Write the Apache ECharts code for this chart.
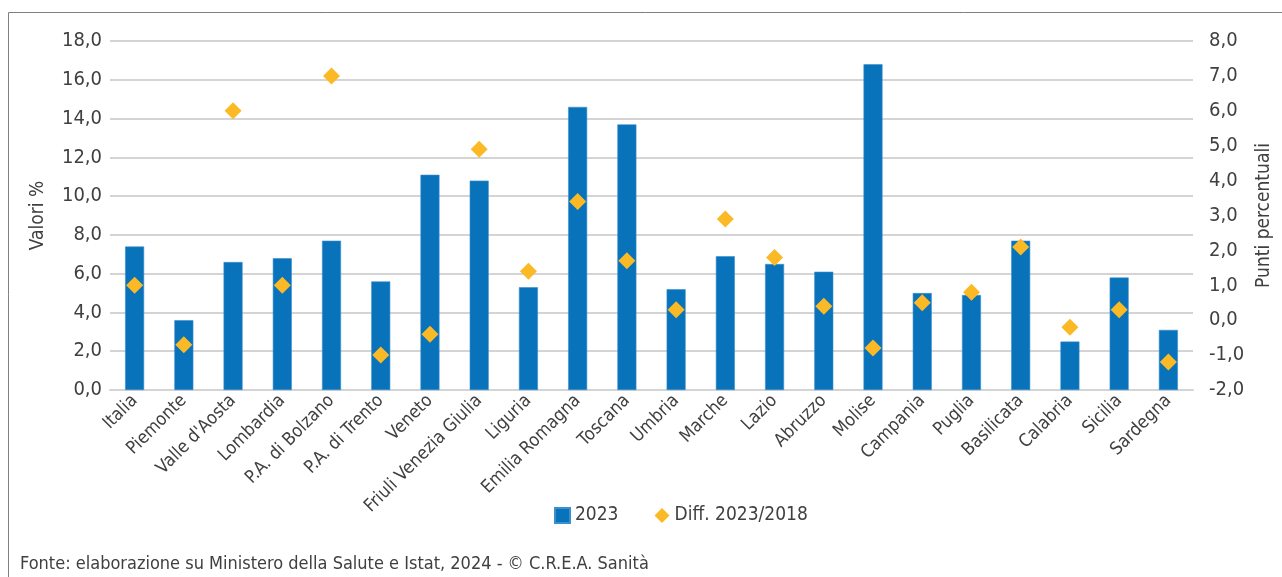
<!DOCTYPE html>
<html>
<head>
<meta charset="utf-8">
<style>
  html, body { margin: 0; padding: 0; background: #fff; }
  #chart { width: 1282px; height: 577px; }
</style>
<script src="https://cdn.jsdelivr.net/npm/echarts@6/dist/echarts.min.js"></script>
</head>
<body>
<div id="chart"></div>
<script>
const regioni = ['Italia', 'Piemonte', "Valle d'Aosta", 'Lombardia', 'P.A. di Bolzano', 'P.A. di Trento',
  'Veneto', 'Friuli Venezia Giulia', 'Liguria', 'Emilia Romagna', 'Toscana', 'Umbria', 'Marche',
  'Lazio', 'Abruzzo', 'Molise', 'Campania', 'Puglia', 'Basilicata', 'Calabria', 'Sicilia', 'Sardegna'];

// valori % 2023 (asse sx)
const valori2023 = [7.4, 3.6, 6.6, 6.8, 7.7, 5.6, 11.1, 10.8, 5.3, 14.6, 13.7, 5.2, 6.9,
  6.5, 6.1, 16.8, 5.0, 4.9, 7.7, 2.5, 5.8, 3.1];

// differenza in punti percentuali 2023/2018 (asse dx)
const diff2023_2018 = [1.0, -0.7, 6.0, 1.0, 7.0, -1.0, -0.4, 4.9, 1.4, 3.4, 1.7, 0.3, 2.9,
  1.8, 0.4, -0.8, 0.5, 0.8, 2.1, -0.2, 0.3, -1.2];

const fonte = 'Fonte: elaborazione su Ministero della Salute e Istat, 2024 - © C.R.E.A. Sanità';

const FONT = "'Liberation Sans Narrow', 'DejaVu Sans Condensed', 'Arial Narrow', sans-serif";
const TXT = '#404040';
const fmt = v => v.toFixed(1).replace('.', ',');

const chart = echarts.init(document.getElementById('chart'));

const option = {
  animation: false,
  textStyle: { fontFamily: FONT, color: TXT },
  grid: { left: 110, right: 89, top: 41, bottom: 187, containLabel: false, outerBoundsMode: 'none' },
  legend: {
    bottom: 47,
    left: 549,
    itemGap: 36,
    itemWidth: 15,
    itemHeight: 15,
    textStyle: { fontFamily: FONT, fontSize: 19, color: TXT },
    data: [
      { name: '2023', icon: 'rect' },
      { name: 'Diff. 2023/2018', icon: 'diamond' }
    ]
  },
  xAxis: {
    type: 'category',
    data: regioni,
    axisTick: { show: false },
    axisLine: { lineStyle: { color: '#d4d4d4', width: 2 } },
    axisLabel: {
      rotate: 45,
      interval: 0,
      margin: 8,
      fontFamily: FONT,
      fontSize: 18,
      color: TXT
    }
  },
  yAxis: [
    {
      type: 'value',
      min: 0,
      max: 18,
      interval: 2,
      name: 'Valori %',
      nameLocation: 'middle',
      nameRotate: 90,
      nameGap: 62,
      nameTextStyle: { fontFamily: FONT, fontSize: 19, color: TXT },
      axisLine: { show: false },
      axisTick: { show: false },
      axisLabel: { formatter: fmt, margin: 8, fontFamily: FONT, fontSize: 20, color: TXT },
      splitLine: { lineStyle: { color: '#d4d4d4', width: 2 } }
    },
    {
      type: 'value',
      min: -2,
      max: 8,
      interval: 1,
      position: 'right',
      name: 'Punti percentuali',
      nameLocation: 'middle',
      nameRotate: 90,
      nameGap: 62,
      nameTextStyle: { fontFamily: FONT, fontSize: 19, color: TXT },
      axisLine: { show: false },
      axisTick: { show: false },
      axisLabel: { formatter: fmt, margin: 16, fontFamily: FONT, fontSize: 20, color: TXT },
      splitLine: { show: false }
    }
  ],
  series: [
    {
      name: '2023',
      type: 'bar',
      data: valori2023,
      barWidth: 19,
      itemStyle: { color: '#0872BA', borderColor: '#3d8fcc', borderWidth: 0.6 }
    },
    {
      name: 'Diff. 2023/2018',
      type: 'scatter',
      yAxisIndex: 1,
      data: diff2023_2018,
      symbol: 'diamond',
      symbolSize: 17,
      itemStyle: { color: '#FBBA25', opacity: 1 },
      z: 5
    }
  ],
  graphic: [
    {
      type: 'polyline',
      shape: { points: [[8.5, 577], [8.5, 12.5], [1282, 12.5]] },
      style: { stroke: '#7f7f7f', lineWidth: 1, fill: null }
    },
    {
      type: 'text',
      left: 20,
      top: 555,
      style: { text: fonte, fontFamily: FONT, fontSize: 18, fill: TXT }
    }
  ]
};

chart.setOption(option);
</script>
</body>
</html>
